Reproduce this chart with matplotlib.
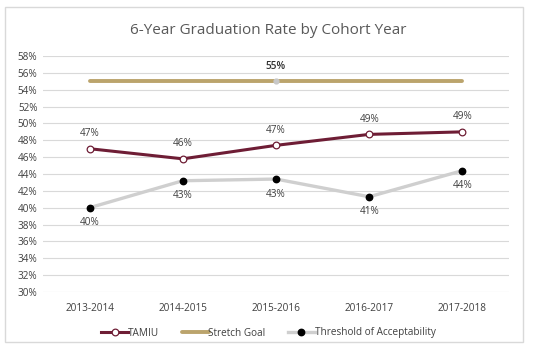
import matplotlib
matplotlib.use("Agg")
import matplotlib.pyplot as plt
from matplotlib.patches import Rectangle
from matplotlib.ticker import FuncFormatter

plt.rcParams['font.family'] = ['Open Sans', 'DejaVu Sans']

cohorts = ["2013-2014", "2014-2015", "2015-2016", "2016-2017", "2017-2018"]
tamiu = [47.0, 45.8, 47.4, 48.7, 49.0]
stretch = [55, 55, 55, 55, 55]
threshold = [40.0, 43.2, 43.4, 41.3, 44.4]
yticks = list(range(30, 60, 2))

fig = plt.figure(figsize=(5.37, 3.6), dpi=100)
fig.patches.append(Rectangle((5/537, 1-342/360), 518/537, 335/360, transform=fig.transFigure,
                             fill=False, edgecolor='#D9D9D9', linewidth=1))
ax = fig.add_axes([43/537, 1-292/360, 466/537, 236/360])
x = list(range(len(cohorts)))

tam_c = '#6E1D35'
str_c = '#BBA46C'
thr_c = '#CFCFCF'
fs = 7.2

ax.plot(x, stretch, color=str_c, lw=2.8, solid_capstyle='round', zorder=3, label='Stretch Goal')
ax.plot([x[2]], [stretch[2]], 'o', color='#C8C8C8', ms=3.5, zorder=4)
ax.plot(x, tamiu, color=tam_c, lw=2.2, marker='o', ms=4.8, mfc='white', mec=tam_c, mew=0.9,
        zorder=5, label='TAMIU')
ax.plot(x, threshold, color=thr_c, lw=2.4, marker='o', ms=4.6, mfc='black', mec='black',
        zorder=4, label='Threshold of Acceptability')

tc = '#404040'
for xi, v in zip(x, tamiu):
    ax.annotate(f"{round(v):.0f}%", (xi, v), xytext=(0, 7), textcoords='offset points',
                ha='center', va='bottom', fontsize=fs, color=tc)
for xi, v in zip(x, threshold):
    ax.annotate(f"{round(v):.0f}%", (xi, v), xytext=(0, -7), textcoords='offset points',
                ha='center', va='top', fontsize=fs, color=tc)
ax.annotate(f"{stretch[2]}%", (x[2], stretch[2]), xytext=(0, 7), textcoords='offset points',
            ha='center', va='bottom', fontsize=fs, color='#303030', fontweight='semibold')

ax.set_xlim(-0.5, len(cohorts) - 0.5)
ax.set_ylim(30, 58)
ax.set_yticks(yticks)
ax.yaxis.set_major_formatter(FuncFormatter(lambda v, p: f"{v:.0f}%"))
ax.set_xticks(x)
ax.set_xticklabels(cohorts)
ax.tick_params(axis='both', length=0, labelsize=fs, labelcolor='#404040')
ax.tick_params(axis='x', pad=8)
ax.tick_params(axis='y', pad=4)
ax.grid(axis='y', color='#D9D9D9', lw=0.8)
ax.set_axisbelow(True)
for s in ax.spines.values():
    s.set_visible(False)

fig.text(0.5, 1 - 31/360, "6-Year Graduation Rate by Cohort Year", ha='center', va='center',
         fontsize=11, color='#595959')

handles, labels = ax.get_legend_handles_labels()
order = [1, 0, 2]
fig.legend([handles[i] for i in order], [labels[i] for i in order], loc='center',
           bbox_to_anchor=(0.5, 1 - 333/360), ncol=3, frameon=False, fontsize=fs,
           handlelength=2.7, columnspacing=2.2, handletextpad=0.0, labelcolor='#404040')

fig.savefig("out.png", dpi=100)
